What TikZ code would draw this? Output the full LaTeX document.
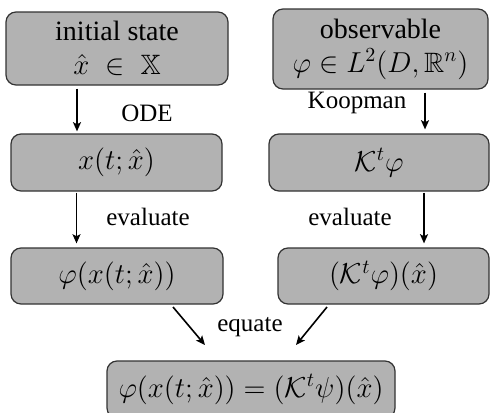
\documentclass[tikz,border=0pt]{standalone}
\usepackage{amsmath,amssymb}
\usepackage[no-math]{fontspec}
\setmainfont{Liberation Serif}
\usetikzlibrary{arrows.meta}
\tikzset{
  box/.style={draw=black!80, line width=0.6pt, fill=gray!60, rounded corners=5pt,
    inner sep=0pt, align=center, font=\fontsize{14}{17}\selectfont},
  arr/.style={line width=0.8pt, -{Stealth[length=4.6pt,width=4pt,inset=1pt]}},
  lbl/.style={font=\fontsize{12.5}{15}\selectfont, inner sep=0pt}
}
\begin{document}
\begin{tikzpicture}[x=0.5pt,y=-0.5pt]
\useasboundingbox (0,0) rectangle (492,412);
\node[box, minimum width=111pt, minimum height=36.5pt] (b1) at (117,48.5) {initial state\\$\hat{x}\;\in\;\mathbb{X}$};
\node[box, minimum width=105.5pt, minimum height=28.5pt] (b2) at (116.5,162.5) {$x(t;\hat{x})$};
\node[box, minimum width=106pt, minimum height=28pt] (b3) at (117,276) {$\varphi(x(t;\hat{x}))$};
\node[box, minimum width=107.5pt, minimum height=40pt] (r1) at (380.5,49) {observable\\$\varphi\in L^2(D,\mathbb{R}^n)$};
\node[box, minimum width=110pt, minimum height=28.5pt] (r2) at (379,162.5) {$\mathcal{K}^t\varphi$};
\node[box, minimum width=105.5pt, minimum height=28pt] (r3) at (383.5,276) {$(\mathcal{K}^t\varphi)(\hat{x})$};
\node[box, minimum width=144pt, minimum height=28.5pt] (f) at (251,389.5) {$\varphi(x(t;\hat{x}))=(\mathcal{K}^t\psi)(\hat{x})$};

\draw[arr, shorten <=1.5pt, shorten >=1pt] ([xshift=-20pt]b1.south) -- ([xshift=-20pt]b1.south |- b2.north);
\draw[arr, shorten <=0.5pt, shorten >=2pt] ([xshift=-20pt]b2.south) -- ([xshift=-20pt]b2.south |- b3.north);
\draw[arr, shorten <=1.5pt, shorten >=2pt] ([xshift=22.25pt]r1.south) -- ([xshift=22.25pt]r1.south |- r2.north);
\draw[arr, shorten <=0.5pt, shorten >=2pt] ([xshift=22.5pt]r2.south) -- ([xshift=22.5pt]r2.south |- r3.north);

\coordinate (e1a) at (173,307);
\coordinate (e1b) at (205,345);
\coordinate (e2a) at (327,307);
\coordinate (e2b) at (296,345);
\draw[arr] (e1a) -- (e1b);
\draw[arr] (e2a) -- (e2b);

\node[lbl] (lode) at (147,113) {ODE};
\node[lbl] (lkoop) at (357,103) {Koopman};
\node[lbl] (lev1) at (148,217) {evaluate};
\node[lbl] (lev2) at (350,217) {evaluate};
\node[lbl] (leq) at (250,327) {equate};
\end{tikzpicture}
\end{document}
